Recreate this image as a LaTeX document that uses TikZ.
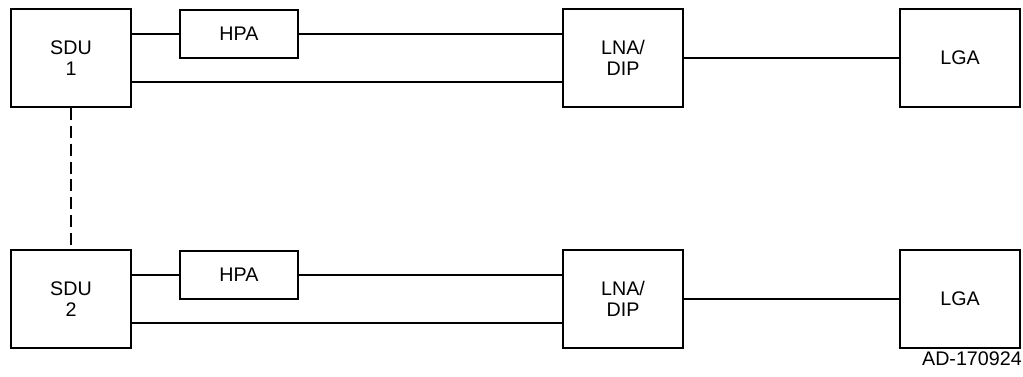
\documentclass[tikz,border=0pt]{standalone}
\usepackage{fontspec}
\setmainfont{Liberation Sans}
\usetikzlibrary{math}

\tikzset{
    unit/.style={draw, line width=0.05cm, align=center, inner sep=0pt,
        font=\fontsize{14}{14.5}\selectfont},
    wire/.style={line width=0.05cm}
}

\begin{document}
\begin{tikzpicture}[x=0.025cm, y=-0.025cm]

\useasboundingbox (0,0) rectangle (1023,376);

% Box sizes
\tikzmath{
    \bigw = 120*0.025;
    \bigh = 98*0.025;
    \hpaw = 118*0.025;
    \hpah = 48*0.025;
    \drop = 24*0.025;
}

\foreach \r/\off in {1/0, 2/241} {

    % Places the units of one terminal
    \node[unit, minimum width=\bigw cm, minimum height=\bigh cm]
        (sdu\r) at (71, 58+\off) {SDU\\\r};
    \node[unit, minimum width=\hpaw cm, minimum height=\hpah cm]
        (hpa\r) at (239, 34+\off) {HPA};
    \node[unit, minimum width=\bigw cm, minimum height=\bigh cm]
        (lna\r) at (623, 58+\off) {LNA/\\DIP};
    \node[unit, minimum width=\bigw cm, minimum height=\bigh cm]
        (lga\r) at (960, 58+\off) {LGA};

    % Draws the transmit and receive paths
    \draw[wire] (sdu\r.east |- hpa\r.west) -- (hpa\r.west);
    \draw[wire] (hpa\r.east) -- (hpa\r.east -| lna\r.west);
    \draw[wire] ([yshift=-\drop cm]sdu\r.east)
        -- ([yshift=-\drop cm]lna\r.west);
    \draw[wire] (lna\r.east) -- (lga\r.west);
}

% Draws the dashed link
\draw[wire, dash pattern=on 8.5pt off 4.2pt] (sdu1.south) -- (sdu2.north);

\node[anchor=base east, inner sep=0pt, font=\fontsize{14}{14.5}\selectfont]
    (tag) at (1022,365) {AD-170924};

\end{tikzpicture}
\end{document}
